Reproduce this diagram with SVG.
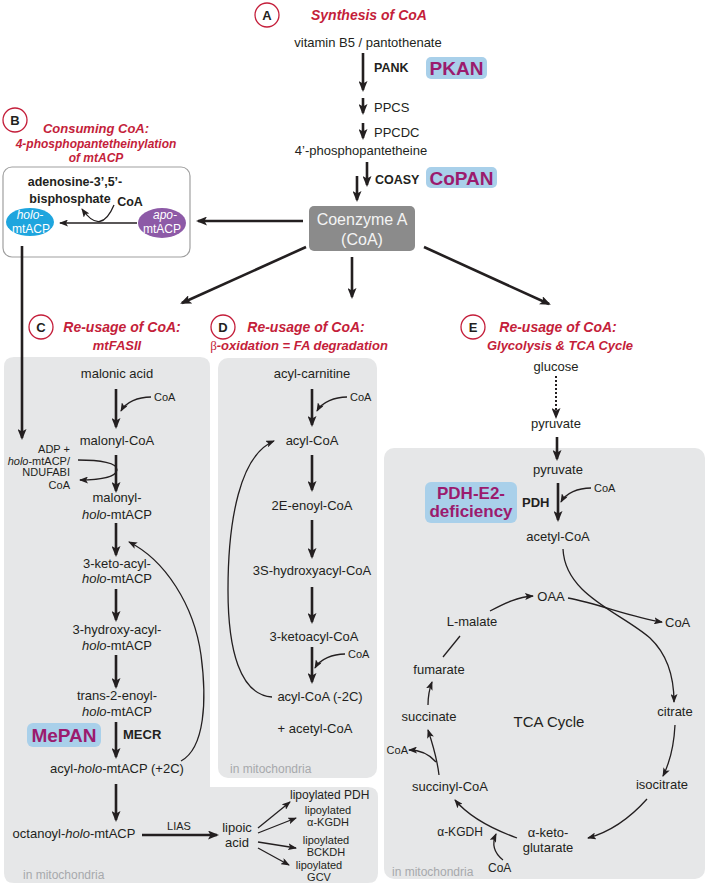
<svg xmlns="http://www.w3.org/2000/svg" width="707" height="886" viewBox="0 0 707 886">
<style>
text{font-family:"Liberation Sans",Arial,Helvetica,sans-serif;font-size:13px;fill:#231f20}
.m{text-anchor:middle}
.e{text-anchor:end}
.s{font-size:11px}
.sm{font-size:12px}
.lp{font-size:11px}
.b{font-weight:bold}
.i{font-style:italic}
.ti{font-weight:bold;font-style:italic;fill:#c41e3a;font-size:14px}
.t2{font-size:13px}
.cl{fill:#fff;stroke:#c41e3a;stroke-width:1.3}
.cn{font-weight:bold;font-size:13px;text-anchor:middle}
.bd{fill:#a9d0ea}
.bt{font-weight:bold;fill:#9b1b6e;font-size:19px;text-anchor:middle}
.pn{fill:#e6e7e8}
.mi{fill:#a7a9ac;font-size:12px}
.th{stroke:#231f20;stroke-width:2.6;fill:none;marker-end:url(#ah)}
.tn{stroke:#231f20;stroke-width:1.3;fill:none;marker-end:url(#as)}
.wt{fill:#fff;font-size:12px;text-anchor:middle}
</style>
<defs>
<marker id="ah" viewBox="0 0 11 9" markerWidth="11" markerHeight="9" refX="9" refY="4.5" orient="auto" markerUnits="userSpaceOnUse"><path d="M0,0 L11,4.5 L0,9 L2.5,4.5 z" fill="#231f20"/></marker>
<marker id="as" viewBox="0 0 9 7" markerWidth="9" markerHeight="7" refX="8" refY="3.5" orient="auto" markerUnits="userSpaceOnUse"><path d="M0,0 L9,3.5 L0,7 L2,3.5 z" fill="#231f20"/></marker>
</defs>

<g id="panels">
<path class="pn" d="M14,357 H200 Q210,357 210,367 V787 H368 Q378,787 378,797 V873 Q378,883 368,883 H14 Q4,883 4,873 V367 Q4,357 14,357 Z"/>
<rect class="pn" x="218" y="358" width="159" height="420" rx="10"/>
<rect class="pn" x="384" y="448" width="321" height="431" rx="10"/>
<rect x="3" y="167" width="187" height="90" rx="9" fill="#fff" stroke="#a0a0a0" stroke-width="1.2"/>
<text class="mi" x="23" y="879">in mitochondria</text>
<text class="mi" x="230" y="773">in mitochondria</text>
<text class="mi" x="392" y="876">in mitochondria</text>
</g>

<g id="titles">
<circle class="cl" cx="267" cy="15" r="12"/><text class="cn" x="267" y="20">A</text>
<text class="ti" x="311" y="20">Synthesis of CoA</text>
<circle class="cl" cx="15" cy="120" r="12"/><text class="cn" x="15" y="125">B</text>
<text class="ti m" x="96" y="133" style="font-size:13px">Consuming CoA:</text>
<text class="ti m" x="96" y="148" style="font-size:12px">4-phosphopantetheinylation</text>
<text class="ti m" x="96" y="162" style="font-size:12px">of mtACP</text>
<circle class="cl" cx="41" cy="327" r="12"/><text class="cn" x="41" y="332">C</text>
<text class="ti m" x="122" y="332">Re-usage of CoA:</text>
<text class="ti m t2" x="117" y="350">mtFASII</text>
<circle class="cl" cx="223" cy="327" r="12"/><text class="cn" x="223" y="332">D</text>
<text class="ti m" x="306" y="332">Re-usage of CoA:</text>
<text class="ti m t2" x="299" y="350"><tspan style="font-family:'Liberation Serif',serif;font-style:normal;font-weight:normal">β</tspan>-oxidation = FA degradation</text>
<circle class="cl" cx="473" cy="327" r="12"/><text class="cn" x="473" y="332">E</text>
<text class="ti m" x="558" y="332">Re-usage of CoA:</text>
<text class="ti m t2" x="560" y="350">Glycolysis &amp; TCA Cycle</text>
</g>

<g id="synthesis">
<text class="m" x="368" y="47">vitamin B5 / pantothenate</text>
<text class="b" x="374" y="72" style="font-size:12.5px">PANK</text>
<text x="374" y="112">PPCS</text>
<text x="374" y="137">PPCDC</text>
<text class="m" x="361" y="155">4’-phosphopantetheine</text>
<text class="b" x="375" y="184" style="font-size:12.5px">COASY</text>
</g>
<g id="badge-pkan"><rect class="bd" x="426" y="57" width="61" height="22" rx="5"/><text class="bt" x="456.5" y="75">PKAN</text></g>
<g id="badge-copan"><rect class="bd" x="426" y="167" width="71" height="21" rx="5"/><text class="bt" x="461.5" y="184.5">CoPAN</text></g>
<g id="coa"><rect x="309" y="206" width="106" height="45" rx="5" fill="#8b8b8b"/>
<text class="m" x="362" y="225" style="font-size:16px;fill:#f4f4f4">Coenzyme A</text>
<text class="m" x="362" y="245" style="font-size:16px;fill:#f4f4f4">(CoA)</text></g>

<g id="nodeB">
<text class="m b" x="75" y="186" style="font-size:12.5px">adenosine-3’,5’-</text>
<text class="m b" x="70" y="203" style="font-size:12.5px">bisphosphate</text>
<text class="m b" x="130" y="206" style="font-size:12.5px">CoA</text>
<ellipse cx="30" cy="222" rx="24" ry="14" fill="#1ea5de"/>
<text class="wt i" x="30" y="219">holo-</text><text class="wt" x="31" y="233">mtACP</text>
<ellipse cx="162" cy="223" rx="24" ry="15" fill="#8d5aa7"/>
<text class="wt i" x="165" y="219">apo-</text><text class="wt" x="162" y="233">mtACP</text>
</g>

<g id="nodesC">
<text class="m" x="117" y="378">malonic acid</text>
<text class="s" x="154" y="401">CoA</text>
<text class="m" x="117" y="445">malonyl-CoA</text>
<text class="s e" x="70" y="453">ADP +</text>
<text class="s e" x="70" y="465"><tspan class="i">holo</tspan>-mtACP/</text>
<text class="s e" x="70" y="476">NDUFABI</text>
<text class="s e" x="70" y="489">CoA</text>
<text class="m" x="117" y="502">malonyl-</text>
<text class="m" x="117" y="519"><tspan class="i">holo</tspan>-mtACP</text>
<text class="m" x="117" y="568">3-keto-acyl-</text>
<text class="m" x="117" y="583"><tspan class="i">holo</tspan>-mtACP</text>
<text class="m" x="117" y="634">3-hydroxy-acyl-</text>
<text class="m" x="117" y="650"><tspan class="i">holo</tspan>-mtACP</text>
<text class="m" x="117" y="700">trans-2-enoyl-</text>
<text class="m" x="117" y="716"><tspan class="i">holo</tspan>-mtACP</text>
<text class="b" x="123" y="739">MECR</text>
<text class="m" x="117" y="773">acyl-<tspan class="i">holo</tspan>-mtACP (+2C)</text>
<text class="m" x="74" y="838">octanoyl-<tspan class="i">holo</tspan>-mtACP</text>
<text class="s m" x="179" y="830">LIAS</text>
<text class="m" x="237" y="832">lipoic</text>
<text class="m" x="237" y="847">acid</text>
<text class="sm" x="290" y="799">lipoylated PDH</text>
<text class="lp m" x="328" y="814">lipoylated</text>
<text class="lp m" x="328" y="826">α-KGDH</text>
<text class="lp m" x="326" y="844">lipoylated</text>
<text class="lp m" x="326" y="856">BCKDH</text>
<text class="lp m" x="319" y="869">lipoylated</text>
<text class="lp m" x="319" y="881">GCV</text>
</g>
<g id="badge-mepan"><rect class="bd" x="27" y="723" width="74" height="24" rx="6"/><text class="bt" x="64" y="742">MePAN</text></g>

<g id="nodesD">
<text class="m" x="312" y="378">acyl-carnitine</text>
<text class="s" x="350" y="401">CoA</text>
<text class="m" x="312" y="445">acyl-CoA</text>
<text class="m" x="312" y="510">2E-enoyl-CoA</text>
<text class="m" x="312" y="575">3S-hydroxyacyl-CoA</text>
<text class="m" x="314" y="641">3-ketoacyl-CoA</text>
<text class="s" x="348" y="658">CoA</text>
<text class="m" x="320" y="701">acyl-CoA (-2C)</text>
<text class="m" x="315" y="733">+ acetyl-CoA</text>
</g>

<g id="nodesE">
<text class="m" x="556" y="371">glucose</text>
<text class="m" x="556" y="428">pyruvate</text>
<text class="m" x="558" y="474">pyruvate</text>
<text class="s" x="594" y="492">CoA</text>
<text class="b" x="522" y="507">PDH</text>
<text class="m" x="558" y="541">acetyl-CoA</text>
<text class="m" x="551" y="601">OAA</text>
<text x="665" y="627">CoA</text>
<text class="m" x="472" y="626">L-malate</text>
<text class="m" x="439" y="674">fumarate</text>
<text class="m" x="429" y="721">succinate</text>
<text class="s e" x="408" y="754">CoA</text>
<text class="m" x="549" y="727" style="font-size:15px">TCA Cycle</text>
<text class="m" x="675" y="716">citrate</text>
<text class="m" x="662" y="789">isocitrate</text>
<text class="m" x="548" y="837">α-keto-</text>
<text class="m" x="548" y="852">glutarate</text>
<text class="sm m" x="460" y="836">α-KGDH</text>
<text class="sm" x="488" y="872">CoA</text>
<text class="m" x="450" y="791">succinyl-CoA</text>
</g>
<g id="badge-pdh"><rect class="bd" x="425" y="482" width="92" height="41" rx="6"/>
<text class="bt" x="471" y="499" style="font-size:17px">PDH-E2-</text>
<text class="bt" x="471" y="517" style="font-size:17px">deficiency</text></g>

<g id="connectors">
<line class="th" x1="363" y1="53" x2="363" y2="90"/>
<line class="th" x1="363" y1="98" x2="363" y2="113"/>
<line class="th" x1="363" y1="123" x2="363" y2="138"/>
<line class="th" x1="367" y1="162" x2="367" y2="185"/>
<line class="th" x1="357" y1="176" x2="357" y2="200"/>
<line class="th" x1="303" y1="221" x2="198" y2="221"/>
<line class="th" x1="352" y1="257" x2="352" y2="297"/>
<line class="th" x1="306" y1="247" x2="182" y2="303"/>
<line class="th" x1="424" y1="247" x2="549" y2="304"/>
<line class="tn" x1="137" y1="223" x2="60" y2="223"/>
<path class="tn" d="M114,205 Q101,236 82,209"/>
<line class="th" x1="22" y1="246" x2="22" y2="438"/>

<line class="th" x1="116" y1="389" x2="116" y2="427"/>
<path class="tn" d="M151,397 C138,397 126,402 121,411"/>
<line class="th" x1="116" y1="455" x2="116" y2="491"/>
<path class="tn" d="M78,460 C100,460 118,463 117,470 C116,477 100,480 80,480"/>
<line class="th" x1="116" y1="523" x2="116" y2="555"/>
<line class="th" x1="116" y1="589" x2="116" y2="620"/>
<line class="th" x1="116" y1="655" x2="116" y2="687"/>
<line class="th" x1="116" y1="722" x2="116" y2="757"/>
<path class="tn" d="M181,761 C205,748 207,700 201,655 C194,605 165,560 129,542"/>
<line class="th" x1="116" y1="784" x2="116" y2="820"/>
<line class="th" x1="142" y1="835" x2="217" y2="835"/>
<line class="tn" x1="258" y1="828" x2="290" y2="802"/>
<line class="tn" x1="258" y1="833" x2="296" y2="818"/>
<line class="tn" x1="258" y1="842" x2="296" y2="848"/>
<line class="tn" x1="258" y1="848" x2="289" y2="865"/>

<line class="th" x1="312" y1="389" x2="312" y2="425"/>
<path class="tn" d="M347,397 C335,397 322,402 317,411"/>
<line class="th" x1="312" y1="455" x2="312" y2="490"/>
<line class="th" x1="312" y1="520" x2="312" y2="557"/>
<line class="th" x1="312" y1="587" x2="312" y2="622"/>
<line class="th" x1="312" y1="647" x2="312" y2="682"/>
<path class="tn" d="M345,654 C333,654 320,659 315,668"/>
<path class="tn" d="M272,697 C240,695 228,650 228,590 C228,520 240,455 274,441"/>

<line x1="556" y1="376" x2="556" y2="417" stroke="#231f20" stroke-width="2" stroke-dasharray="2 2" marker-end="url(#ah)"/>
<line class="th" x1="557" y1="437" x2="557" y2="459"/>
<line class="th" x1="558" y1="483" x2="558" y2="520"/>
<path class="tn" d="M591,488 C578,488 566,493 561,502"/>
<path class="tn" d="M563,549 C565,595 620,612 650,638 C668,655 674,680 674,702"/>
<path class="tn" d="M568,598 C600,604 630,617 662,622"/>
<path class="tn" d="M490,611 C505,603 518,597 533,596"/>
<line x1="460" y1="636" x2="443" y2="657" stroke="#231f20" stroke-width="1.3"/>
<path class="tn" d="M428,705 C428,697 429,690 432,682"/>
<path class="tn" d="M675,725 C674,745 670,762 663,776"/>
<path class="tn" d="M647,799 C630,818 610,832 588,838"/>
<path class="tn" d="M517,838 C495,830 470,818 455,800"/>
<path class="tn" d="M503,860 C493,852 492,843 496,834"/>
<path class="tn" d="M439,775 C437,758 433,745 428,730"/>
<path class="tn" d="M436,762 C430,755 420,750 409,750"/>
</g>
</svg>
